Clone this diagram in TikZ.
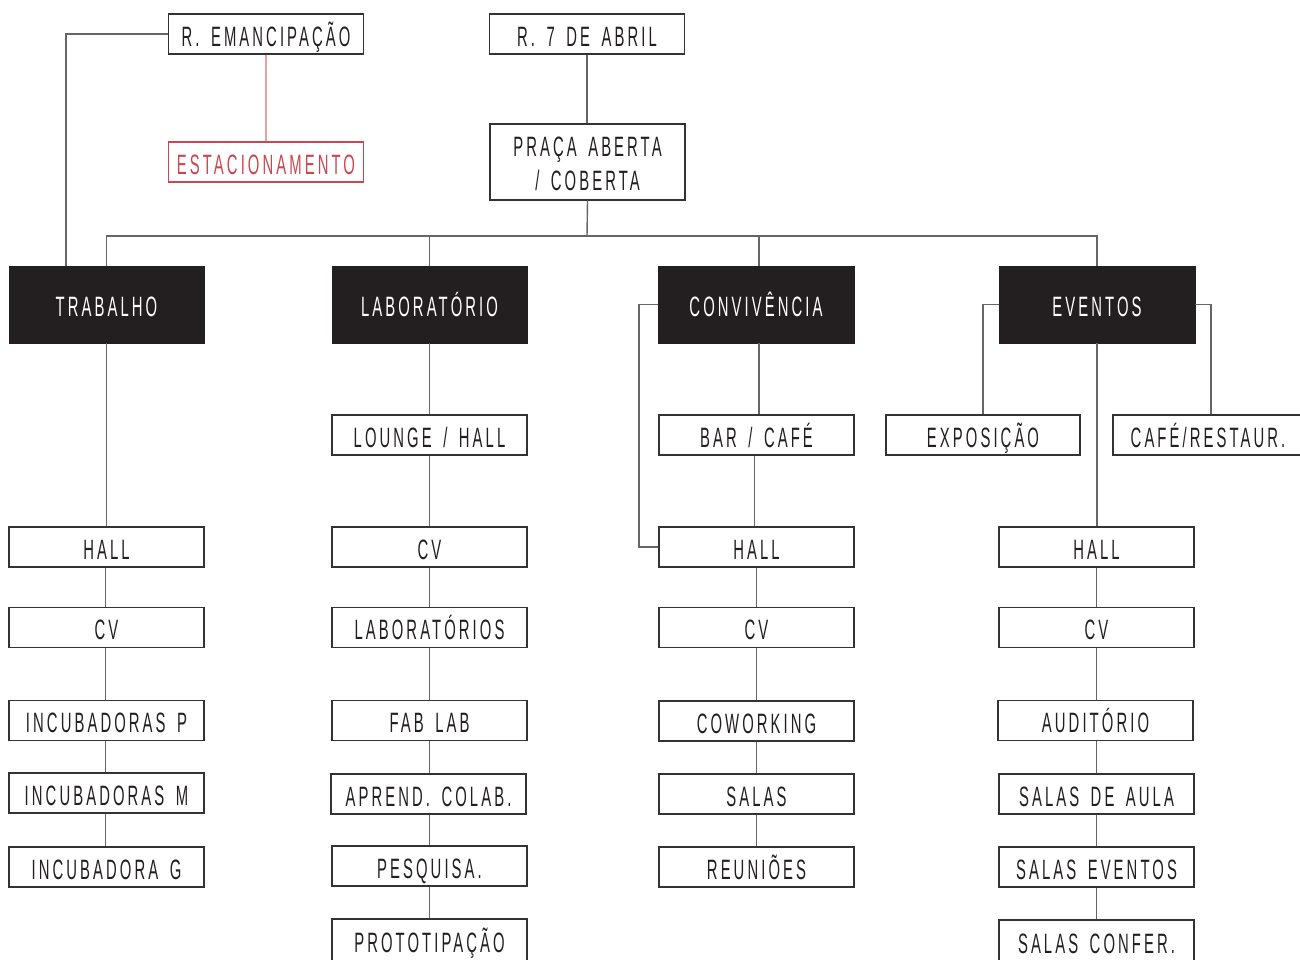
\documentclass[tikz,border=0pt]{standalone}
\usepackage{fontspec}
\setmainfont[FakeStretch=0.53,LetterSpace=11,WordSpace=1.6]{Liberation Sans}
\newcommand\lblfont{\fontsize{28}{34}\selectfont}
\definecolor{boxc}{HTML}{333333}
\definecolor{linec}{HTML}{666666}
\definecolor{txt}{HTML}{231F20}
\definecolor{blk}{HTML}{231F20}
\definecolor{redt}{HTML}{C9474F}
\definecolor{redl}{HTML}{E8A0A5}
\tikzset{
 box/.style={draw=boxc, line width=1.4pt, minimum width=195pt, minimum height=40pt, inner sep=0pt, text=txt, font=\lblfont, text height=24pt, text depth=0pt},
 dark/.style={fill=blk, draw=blk, minimum width=195pt, minimum height=77pt, inner sep=0pt, text=white, font=\lblfont, text height=24pt, text depth=0pt},
 redbox/.style={box, draw=redt, text=redt},
 conn/.style={draw=linec, line width=1.4pt},
 redconn/.style={draw=redl, line width=1.4pt},
}
\begin{document}
\begin{tikzpicture}[x=1pt,y=-1pt]
\useasboundingbox (0,0) rectangle (1300,959);
% top
\node[box] (emanc) at (266,34) {R. EMANCIPAÇÃO};
\node[redbox] (estac) at (266,162) {ESTACIONAMENTO};
\node[box] (abril) at (587,34) {R. 7 DE ABRIL};
\node[box, minimum height=76pt, label={[font=\lblfont, text=txt, align=center, inner sep=0pt, yshift=-2pt]center:PRAÇA ABERTA\\/ COBERTA}] (praca) at (587.5,162) {};
% main
\node[dark] (trab) at (106.5,304.5) {TRABALHO};
\node[dark] (lab) at (429.5,304.5) {LABORATÓRIO};
\node[dark, minimum width=196pt] (conv) at (756,304.5) {CONVIVÊNCIA};
\node[dark, minimum width=196pt] (even) at (1097,304.5) {EVENTOS};
% column 1
\node[box] (hall1) at (106.5,547) {HALL};
\node[box] (cv1) at (106.5,627.5) {CV};
\node[box] (incp) at (106.5,720.5) {INCUBADORAS P};
\node[box] (incm) at (106.5,793) {INCUBADORAS M};
\node[box] (incg) at (106.5,867) {INCUBADORA G};
% column 2
\node[box] (lounge) at (429.5,435) {LOUNGE / HALL};
\node[box] (cv2) at (429.5,547) {CV};
\node[box] (labs) at (429.5,627.5) {LABORATÓRIOS};
\node[box] (fab) at (429.5,720.5) {FAB LAB};
\node[box] (apr) at (428.5,794) {APREND. COLAB.};
\node[box] (pesq) at (429.5,866) {PESQUISA.};
\node[box, minimum height=42pt] (proto) at (429.5,940) {PROTOTIPAÇÃO};
% column 3
\node[box] (bar) at (756.5,435) {BAR / CAFÉ};
\node[box] (hall3) at (756.5,547) {HALL};
\node[box] (cv3) at (756.5,627.5) {CV};
\node[box] (cow) at (756.5,721) {COWORKING};
\node[box] (salas) at (756.5,794) {SALAS};
\node[box] (reun) at (756.5,867) {REUNIÕES};
% column 4
\node[box, minimum width=194pt] (expo) at (983,435) {EXPOSIÇÃO};
\node[box, minimum width=190pt] (cafe) at (1208,435) {CAFÉ/RESTAUR.};
\node[box] (hall4) at (1096.5,547) {HALL};
\node[box] (cv4) at (1096.5,627.5) {CV};
\node[box] (aud) at (1095.5,720.5) {AUDITÓRIO};
\node[box] (aula) at (1096.5,794) {SALAS DE AULA};
\node[box] (sev) at (1096.5,867) {SALAS EVENTOS};
\node[box, minimum height=42pt] (conf) at (1096.5,941) {SALAS CONFER.};
% connectors top
\draw[conn] (emanc.west) -- (66,34) -- (66,0 |- trab.north);
\draw[redconn] (emanc.south) -- (estac.north);
\draw[conn] (abril.south) -- (abril.south |- praca.north);
\coordinate (bus) at (587,236);
\draw[conn] (praca.south) -- (bus);
\draw[conn] (trab.north) -- (106.5,236) -- (1097,236) -- (even.north);
\draw[conn] (lab.north) -- (429.5,236);
\draw[conn] (759,0 |- conv.north) -- (759,236);
% column 1
\draw[conn] (trab.south) -- (hall1.north);
\draw[conn] (105.5,0 |- hall1.south) -- (105.5,0 |- cv1.north);
\draw[conn] (105.5,0 |- cv1.south) -- (105.5,0 |- incp.north);
\draw[conn] (105.5,0 |- incp.south) -- (105.5,0 |- incm.north);
\draw[conn] (105.5,0 |- incm.south) -- (105.5,0 |- incg.north);
% column 2
\draw[conn] (lab.south) -- (lounge.north);
\draw[conn] (lounge.south) -- (cv2.north);
\draw[conn] (cv2.south) -- (labs.north);
\draw[conn] (labs.south) -- (fab.north);
\draw[conn] (429.5,0 |- fab.south) -- (429.5,0 |- apr.north);
\draw[conn] (429.5,0 |- apr.south) -- (429.5,0 |- pesq.north);
\draw[conn] (pesq.south) -- (proto.north);
% column 3
\draw[conn] (759,0 |- conv.south) -- (759,0 |- bar.north);
\draw[conn] (754.5,0 |- bar.south) -- (754.5,0 |- hall3.north);
\draw[conn] (conv.west) -- (639,304.5) -- (639,547) -- (hall3.west);
\draw[conn] (hall3.south) -- (cv3.north);
\draw[conn] (cv3.south) -- (cow.north);
\draw[conn] (cow.south) -- (salas.north);
\draw[conn] (salas.south) -- (reun.north);
% column 4
\draw[conn] (even.west) -- (983,304.5) -- (expo.north);
\draw[conn] (even.east) -- (1211,304.5) -- (1211,0 |- cafe.north);
\draw[conn] (even.south) -- (1097,0 |- hall4.north);
\draw[conn] (hall4.south) -- (cv4.north);
\draw[conn] (1096.5,0 |- cv4.south) -- (1096.5,0 |- aud.north);
\draw[conn] (1096.5,0 |- aud.south) -- (1096.5,0 |- aula.north);
\draw[conn] (aula.south) -- (sev.north);
\draw[conn] (sev.south) -- (conf.north);
\end{tikzpicture}
\end{document}
